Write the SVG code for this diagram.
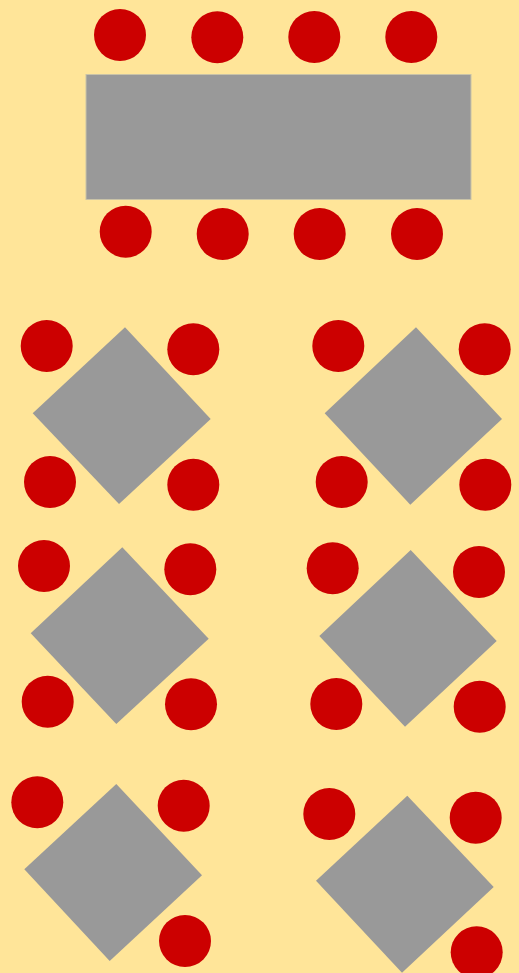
<svg xmlns="http://www.w3.org/2000/svg" width="519" height="973" viewBox="0 0 519 973">
<style>
.chair{fill:#cc0000}
.table{fill:#999999}
</style>
<rect x="0" y="0" width="519" height="973" fill="#ffe599"/>
<g id="table-long">
<rect class="table" x="86" y="74.5" width="385" height="125" stroke="#c9c3a8" stroke-width="1"/>
<circle class="chair" cx="120" cy="35" r="26"/>
<circle class="chair" cx="217.3" cy="37.3" r="26"/>
<circle class="chair" cx="314.3" cy="37" r="26"/>
<circle class="chair" cx="411.3" cy="37" r="26"/>
<circle class="chair" cx="125.7" cy="231.7" r="26"/>
<circle class="chair" cx="222.7" cy="234" r="26"/>
<circle class="chair" cx="319.7" cy="234" r="26"/>
<circle class="chair" cx="417" cy="234" r="26"/>
</g>
<g id="table-1">
<polygon class="table" points="125,327.3 210.7,419 119,504 32.7,413.3"/>
<circle class="chair" cx="46.7" cy="346" r="26"/>
<circle class="chair" cx="193.3" cy="349.3" r="26"/>
<circle class="chair" cx="50" cy="482" r="26"/>
<circle class="chair" cx="193.3" cy="484.7" r="26"/>
</g>
<g id="table-2">
<polygon class="table" points="416,327.3 502,419 410.3,504.7 324.7,413.3"/>
<circle class="chair" cx="338.3" cy="346" r="26"/>
<circle class="chair" cx="484.7" cy="349.3" r="26"/>
<circle class="chair" cx="341.7" cy="482" r="26"/>
<circle class="chair" cx="485.3" cy="484.7" r="26"/>
</g>
<g id="table-3">
<polygon class="table" points="122.3,547.3 208.7,638.7 116.3,724 30.7,633.3"/>
<circle class="chair" cx="44" cy="566" r="26"/>
<circle class="chair" cx="190.3" cy="569.3" r="26"/>
<circle class="chair" cx="47.7" cy="701.7" r="26"/>
<circle class="chair" cx="191" cy="704.3" r="26"/>
</g>
<g id="table-4">
<polygon class="table" points="410.7,550 496.7,641 405,726.7 319.3,636"/>
<circle class="chair" cx="332.7" cy="568.3" r="26"/>
<circle class="chair" cx="479" cy="572" r="26"/>
<circle class="chair" cx="336.3" cy="704" r="26"/>
<circle class="chair" cx="479.7" cy="706.7" r="26"/>
</g>
<g id="table-5">
<polygon class="table" points="116.3,784 202,875.3 109.7,961 24.3,869.3"/>
<circle class="chair" cx="37.3" cy="802.3" r="26"/>
<circle class="chair" cx="183.7" cy="805.7" r="26"/>
<circle class="chair" cx="185" cy="941" r="26"/>
</g>
<g id="table-6">
<polygon class="table" points="407.3,795.7 493.7,887 402,972.7 316,880.7"/>
<circle class="chair" cx="329.3" cy="814" r="26"/>
<circle class="chair" cx="475.7" cy="817.7" r="26"/>
<circle class="chair" cx="476.7" cy="952.3" r="26"/>
</g>
<g id="connectors"/>
</svg>
